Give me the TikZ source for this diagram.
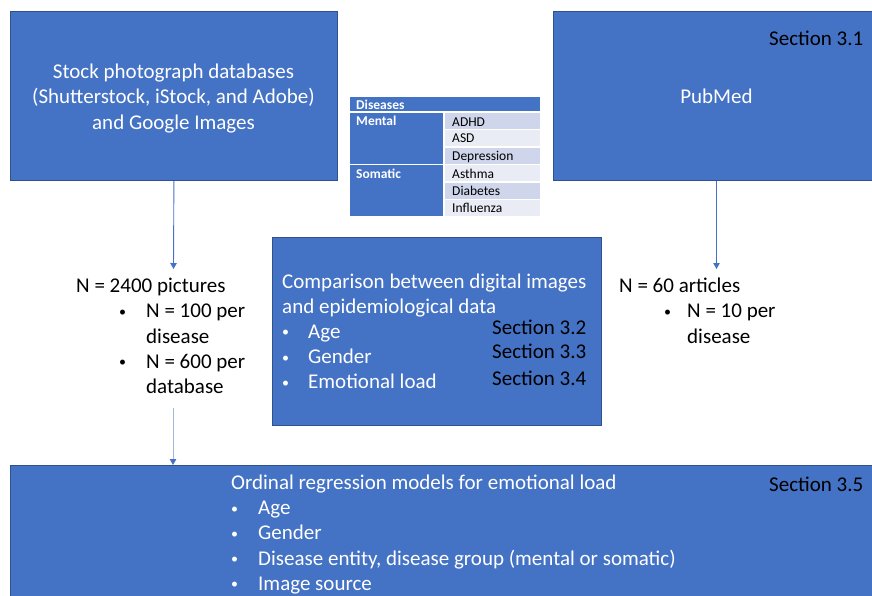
\documentclass[tikz,border=0pt]{standalone}
\usepackage{fontspec}
\setmainfont{Carlito}
\usetikzlibrary{arrows.meta}
\definecolor{boxblue}{HTML}{4472C4}
\definecolor{boxline}{HTML}{2F528F}
\definecolor{rowa}{HTML}{CFD5EA}
\definecolor{rowb}{HTML}{E9EBF5}
\definecolor{paleline}{HTML}{A3B6DC}
% small list bullet
\newcommand{\lbul}{\raisebox{1.6pt}{\fontsize{14}{14}\selectfont •}}

\begin{document}
\begin{tikzpicture}[x=1pt,y=-1pt,
  panel/.style={draw=boxline, line width=0.8pt, fill=boxblue, inner sep=0pt, anchor=north west},
  bigtxt/.style={font=\fontsize{21}{25.2}\selectfont, inner sep=0pt, anchor=base west},
  wtxt/.style={bigtxt, text=white},
  sectxt/.style={bigtxt, text=black},
  cellbox/.style={draw=white, line width=1.2pt},
  tbtxt/.style={font=\fontsize{13.5}{16}\selectfont, inner sep=0pt, anchor=base west},
  link/.style={draw=boxblue, line width=0.9pt, -{Triangle[width=6.5pt,length=6pt]}},
  palelink/.style={draw=paleline, line width=1pt, -{Triangle[width=6.5pt,length=6pt,color=boxblue]}},
]
\useasboundingbox (0,0) rectangle (872,595);

% ---- source panels ----
\node[panel, minimum width=327pt, minimum height=169pt] (stock) at (10,11) {};
\node[bigtxt, text=white, align=center, anchor=center] (stocktxt) at (173.5,98.5)
  {Stock photograph databases\\(Shutterstock, iStock, and Adobe)\\and Google Images};
\node[panel, minimum width=330pt, minimum height=169pt] (pubmed) at (553,11) {};
\node[wtxt, anchor=base] (pubmedtxt) at (716.5,103) {PubMed};
\node[sectxt] (sec31) at (769,45) {Section 3.1};

% ---- disease table ----
\fill[boxblue, cellbox] (349,96) rectangle (541,112);
\fill[boxblue, cellbox] (349,112) rectangle (444,164.5);
\fill[boxblue, cellbox] (349,164.5) rectangle (444,217);
\fill[rowa, cellbox] (444,112) rectangle (541,129.5);
\fill[rowb, cellbox] (444,129.5) rectangle (541,147);
\fill[rowa, cellbox] (444,147) rectangle (541,164.5);
\fill[rowb, cellbox] (444,164.5) rectangle (541,182);
\fill[rowa, cellbox] (444,182) rectangle (541,199.5);
\fill[rowb, cellbox] (444,199.5) rectangle (541,217);
\node[tbtxt, text=white, font=\fontsize{13.5}{16}\selectfont\bfseries] (hdr) at (356,109) {Diseases};
\node[tbtxt, text=white, font=\fontsize{13.5}{16}\selectfont\bfseries] (mental) at (356,125.7) {Mental};
\node[tbtxt, text=white, font=\fontsize{13.5}{16}\selectfont\bfseries] (somatic) at (356,178) {Somatic};
\node[tbtxt] (adhd) at (452,126) {ADHD};
\node[tbtxt] (asd) at (452,142.7) {ASD};
\node[tbtxt] (depr) at (452,160) {Depression};
\node[tbtxt] (asthma) at (452,178) {Asthma};
\node[tbtxt] (diab) at (452,195) {Diabetes};
\node[tbtxt] (influ) at (452,212) {Influenza};

% ---- sample counts ----
\node[bigtxt] (pictures) at (76,292.7) {\begin{tabular}[t]{@{}p{43pt}@{}p{27pt}@{}l@{}}
  \multicolumn{3}{@{}l@{}}{N = 2400 pictures}\\
  & \lbul & N = 100 per\\
  & & disease\\
  & \lbul & N = 600 per\\
  & & database
\end{tabular}};
\node[bigtxt] (articles) at (619,292.7) {\begin{tabular}[t]{@{}p{45pt}@{}p{23pt}@{}l@{}}
  \multicolumn{3}{@{}l@{}}{N = 60 articles}\\
  & \lbul & N = 10 per\\
  & & disease
\end{tabular}};

% ---- comparison panel ----
\node[panel, minimum width=329pt, minimum height=188pt] (compare) at (272,237) {};
\node[wtxt] (comptxt) at (282,288) {\begin{tabular}[t]{@{}p{26pt}@{}l@{}}
  \multicolumn{2}{@{}l@{}}{Comparison between digital images}\\
  \multicolumn{2}{@{}l@{}}{and epidemiological data}\\
  \lbul & Age\\
  \lbul & Gender\\
  \lbul & Emotional load
\end{tabular}};
\node[sectxt] (sec32) at (492,334) {Section 3.2};
\node[sectxt] (sec33) at (492,358) {Section 3.3};
\node[sectxt] (sec34) at (492,385) {Section 3.4};

% ---- regression panel ----
\node[panel, minimum width=880pt, minimum height=160pt] (regress) at (10,465) {};
\node[wtxt] (regtxt) at (231,489.5) {\begin{tabular}[t]{@{}p{27pt}@{}l@{}}
  \multicolumn{2}{@{}l@{}}{Ordinal regression models for emotional load}\\
  \lbul & Age\\
  \lbul & Gender\\
  \lbul & Disease entity, disease group (mental or somatic)\\
  \lbul & Image source
\end{tabular}};
\node[sectxt] (sec35) at (769,491.7) {Section 3.5};

% ---- connectors ----
\coordinate (picsend) at (173.5,269);
\coordinate (artend) at (716.5,269);
\coordinate (picsout) at (173,408);
\draw[link] (stock.south) -- (picsend);
\draw[link] (pubmed.south -| artend) -- (artend);
\draw[palelink] (picsout) -- (picsout |- regress.north);
\end{tikzpicture}
\end{document}
